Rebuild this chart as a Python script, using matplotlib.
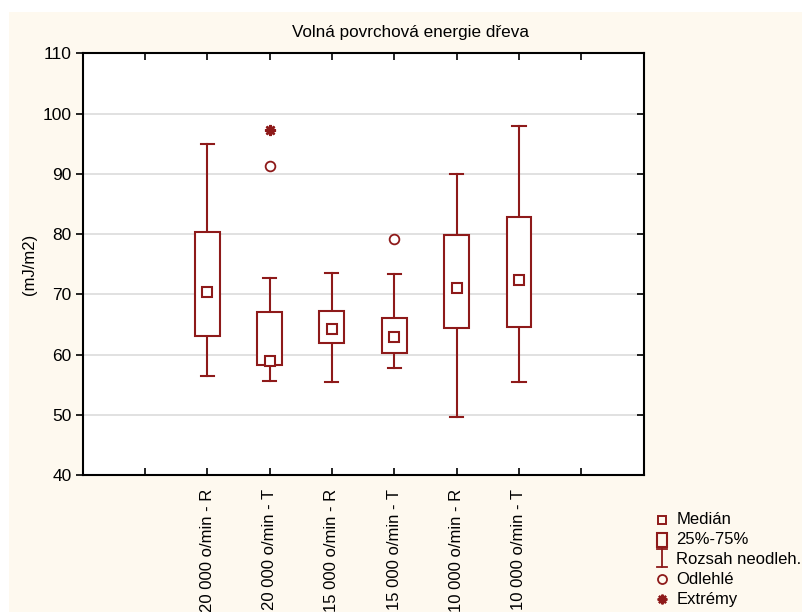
import matplotlib
matplotlib.use("Agg")
import matplotlib.pyplot as plt
from matplotlib.lines import Line2D
from matplotlib.patches import Rectangle

plt.rcParams['font.family'] = ['Liberation Sans', 'DejaVu Sans']

# Box plot summary per group
groups = ["20 000 o/min - R", "20 000 o/min - T", "15 000 o/min - R",
          "15 000 o/min - T", "10 000 o/min - R", "10 000 o/min - T"]
medians = [70.3, 58.9, 64.2, 62.9, 71.1, 72.4]
q1 = [63.0, 58.2, 61.9, 60.3, 64.4, 64.6]
q3 = [80.3, 67.0, 67.3, 66.1, 79.9, 82.9]
whisk_lo = [56.4, 55.6, 55.4, 57.8, 49.7, 55.5]
whisk_hi = [95.0, 72.7, 73.6, 73.4, 90.0, 98.0]
outliers = {1: [91.3], 3: [79.2]}
extremes = {1: [97.3]}
legend_labels = ['Medián', '25%-75%', 'Rozsah neodleh.', 'Odlehlé', 'Extrémy']

red = '#8e1a1a'
cream = '#fef9ef'
W, H = 802, 612


def fx(px):
    return px / W


def fy(py):
    return 1 - py / H


fig = plt.figure(figsize=(W / 100, H / 100), dpi=100, facecolor='white')
fig.patches.append(Rectangle((fx(9), 0), 1, fy(12), transform=fig.transFigure,
                             facecolor=cream, edgecolor='none', zorder=-10))
ax = fig.add_axes([fx(82.5), fy(475), fx(643.7 - 82.5), (475 - 53.3) / H])
ax.set_facecolor('white')

xs = list(range(2, 2 + len(groups)))
box_w = 0.4
cap_w = 0.21
for i, x in enumerate(xs):
    ax.add_patch(Rectangle((x - box_w / 2, q1[i]), box_w, q3[i] - q1[i],
                           facecolor='white', edgecolor=red, lw=1.5, zorder=3))
    ax.plot([x, x], [q3[i], whisk_hi[i]], color=red, lw=1.5, zorder=2)
    ax.plot([x, x], [q1[i], whisk_lo[i]], color=red, lw=1.5, zorder=2)
    ax.plot([x - cap_w / 2, x + cap_w / 2], [whisk_hi[i]] * 2, color=red, lw=1.5)
    ax.plot([x - cap_w / 2, x + cap_w / 2], [whisk_lo[i]] * 2, color=red, lw=1.5)
    ax.plot([x], [medians[i]], marker='s', ms=6.5, mfc='white', mec=red, mew=1.5, zorder=4)
    for v in outliers.get(i, []):
        ax.plot([x], [v], marker='o', ms=7, mfc='white', mec=red, mew=1.3, ls='none')
    for v in extremes.get(i, []):
        ax.plot([x], [v], marker=(8, 2, 0), ms=8, mec=red, mew=1.8, ls='none')

ax.set_xlim(0, 9)
ax.set_ylim(40, 110)
ax.set_yticks(range(40, 111, 10))
ax.set_xticks(range(1, 9))
ax.set_xticklabels([''] + groups + [''], rotation=90)
ax.yaxis.grid(True, color='#dcdcdc', lw=1.2)
ax.set_axisbelow(True)
for s in ax.spines.values():
    s.set_linewidth(1.5)
    s.set_color('black')
ax.tick_params(axis='y', which='both', direction='out', length=5, width=1.2,
               labelsize=12.5, right=True, pad=3)
ax.tick_params(axis='x', direction='in', length=5, width=1.2, labelsize=12, top=True, pad=10)
# right-side ticks point inward
for t in ax.yaxis.get_ticklines()[1::2]:
    t.set_marker(0)
ax.set_ylabel('(mJ/m2)', fontsize=12, labelpad=4)
fig.text(fx(410), fy(32), 'Volná povrchová energie dřeva', fontsize=12.3,
         ha='center', va='center')

# legend, drawn by hand in figure pixels
rows = [520, 540, 559.3, 579.3, 599.3]
mx, tx = 661.7, 676.5
kw = dict(transform=fig.transFigure, color=red)
fig.add_artist(Line2D([fx(mx)], [fy(rows[0])], marker='s', ms=5.5, mfc='none',
                      mec=red, mew=1.4, ls='none', transform=fig.transFigure))
fig.add_artist(Rectangle((fx(656.7), fy(547.3)), fx(10), 14.6 / H, fill=False,
                         edgecolor=red, lw=1.5, transform=fig.transFigure))
fig.add_artist(Line2D([fx(mx), fx(mx)], [fy(549.3), fy(566.7)], lw=1.3, **kw))
fig.add_artist(Line2D([fx(656.7), fx(666.7)], [fy(549.3)] * 2, lw=1.3, **kw))
fig.add_artist(Line2D([fx(656.7), fx(666.7)], [fy(566.7)] * 2, lw=1.3, **kw))
fig.add_artist(Line2D([fx(mx)], [fy(rows[3])], marker='o', ms=6.5, mfc='none',
                      mec=red, mew=1.3, ls='none', transform=fig.transFigure))
fig.add_artist(Line2D([fx(mx)], [fy(rows[4])], marker=(8, 2, 0), ms=7,
                      mec=red, mew=1.6, ls='none', transform=fig.transFigure))
for r, lab in zip(rows, legend_labels):
    fig.text(fx(tx), fy(r), lab, fontsize=12, ha='left', va='center')

fig.savefig('out.png', dpi=100, facecolor=fig.get_facecolor())
